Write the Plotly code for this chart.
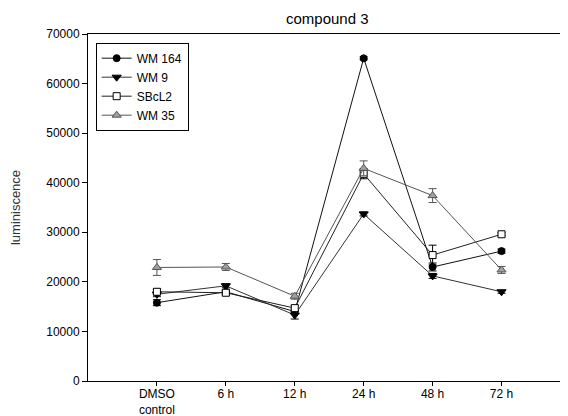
import plotly.graph_objects as go

categories = ["DMSO<br>control", "6 h", "12 h", "24 h", "48 h", "72 h"]

wm164 = [15800, 18000, 14000, 65100, 23000, 26200]
wm164_err = [600, 400, 400, 300, 800, 400]
wm9 = [17500, 19200, 13300, 33700, 21200, 18000]
wm9_err = [500, 400, 800, 400, 500, 300]
sbcl2 = [18000, 17800, 14700, 41800, 25400, 29600]
sbcl2_err = [600, 400, 500, 1000, 2000, 300]
wm35 = [22900, 23000, 17100, 42900, 37400, 22400]
wm35_err = [1600, 700, 600, 1500, 1400, 700]

x = list(range(len(categories)))

series = [
    ("WM 164", wm164, wm164_err, "circle", 7, "#000000", "#000000", "#111111"),
    ("WM 9", wm9, wm9_err, "triangle-down", 8, "#000000", "#000000", "#333333"),
    ("SBcL2", sbcl2, sbcl2_err, "square", 7, "#ffffff", "#000000", "#222222"),
    ("WM 35", wm35, wm35_err, "triangle-up", 8, "#a0a0a0", "#555555", "#555555"),
]

fig = go.Figure()
for name, vals, err, sym, sz, fill, edge, lc in series:
    fig.add_trace(go.Scatter(
        x=x, y=vals, name=name, mode="lines+markers",
        line=dict(color=lc, width=1),
        marker=dict(symbol=sym, size=sz, color=fill, line=dict(color=edge, width=1)),
        error_y=dict(type="data", array=err, visible=True, color=edge, thickness=1, width=4),
    ))

font_family = "Liberation Sans, Arial, sans-serif"
fig.update_layout(
    width=568, height=416,
    margin=dict(l=80, r=9, t=26, b=43, autoexpand=False),
    paper_bgcolor="white", plot_bgcolor="white",
    font=dict(family=font_family, size=12, color="#000000"),
    showlegend=True,
    legend=dict(x=0.016, y=0.975, xanchor="left", yanchor="top",
                bgcolor="white", bordercolor="#000000", borderwidth=1,
                font=dict(size=12), tracegroupgap=0, itemwidth=30),
    xaxis=dict(
        range=[-1, 5.95], tickmode="array", tickvals=x, ticktext=categories,
        showgrid=False, zeroline=False, showline=True, linecolor="#000000", linewidth=1,
        mirror=True, ticks="outside", ticklen=4, tickcolor="#000000",
        tickfont=dict(size=12), ticklabelstandoff=-2, automargin=False,
    ),
    yaxis=dict(
        range=[0, 70000], tickvals=[0, 10000, 20000, 30000, 40000, 50000, 60000, 70000],
        tickformat="d", automargin=False,
        showgrid=False, zeroline=False, showline=True, linecolor="#000000", linewidth=1,
        ticks="outside", ticklen=5, tickcolor="#000000",
        tickfont=dict(size=12),
        title=dict(text="luminiscence", font=dict(size=13, color="#333333"), standoff=22),
    ),
    annotations=[dict(text="compound 3", xref="paper", yref="paper", x=0.5, y=1.045,
                      xanchor="center", yanchor="middle", showarrow=False,
                      font=dict(size=15, color="#000000"))],
)

fig.write_html("out.html")
